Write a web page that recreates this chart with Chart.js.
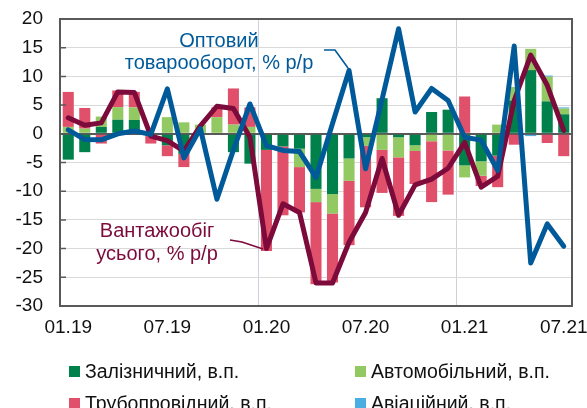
<!DOCTYPE html>
<html><head><meta charset="utf-8">
<script src="https://cdn.jsdelivr.net/npm/chart.js@4/dist/chart.umd.min.js"></script>
<style>
html,body{margin:0;padding:0;background:#fff;}
#wrap{position:relative;width:587px;height:408px;overflow:hidden;font-family:"Liberation Sans",Arial,sans-serif;}
#c{position:absolute;left:0;top:0;}
.lg{position:absolute;display:flex;align-items:center;height:22px;font-size:19.5px;color:#111;white-space:nowrap;}
.lg i{display:inline-block;width:11px;height:11px;margin-right:5px;}
</style></head>
<body><div id="wrap"><canvas id="c" width="587" height="408"></canvas><div id="legend"></div></div>
<script>
const categories = ['01.19','02.19','03.19','04.19','05.19','06.19','07.19','08.19','09.19','10.19','11.19','12.19',
  '01.20','02.20','03.20','04.20','05.20','06.20','07.20','08.20','09.20','10.20','11.20','12.20',
  '01.21','02.21','03.21','04.21','05.21','06.21','07.21'];
const xTickLabels = ['01.19','07.19','01.20','07.20','01.21','07.21'];
const yTicks = {min:-30, max:20, step:5};

const rail     = [-4.5,-3.2,1.2,2.45,2.4,0,-2.0,-3.5,0,0,-3.2,-5.2,-2.8,-2.2,-2.6,-9.6,-10.5,-4.3,-0.6,6.2,-0.6,-2.0,3.8,4.2,-5.5,-4.8,-3.8,5.8,11.1,5.65,3.4];
const auto     = [1.2,0.9,1.8,2.2,2.2,0,2.9,2.0,1.6,2.9,1.6,1.2,0,0,-3.2,-2.3,-3.4,-3.9,-1.5,-2.8,-3.5,-1.0,-1.3,-2.9,-2.1,-2.5,1.6,2.35,3.7,4.3,1.0];
const pipe     = [6.1,3.6,-1.7,2.9,2.7,-1.7,-1.9,-2.3,0,1.7,6.3,3.4,-17.6,-12.0,-7.9,-14.3,-12.0,-11.2,-10.7,-7.5,-10.2,-5.75,-10.6,-7.7,6.5,-1.8,-5.5,-1.9,0,-1.6,-3.9];
const avia     = [0,0,0,0,0,0,0,0,0,0,0,0,0,0,0,0,0,0,0,0,0,0,0,0,0,0,0,0,-0.4,0.2,0.2];
const cargo    = [2.8,1.5,1.9,7.3,7.2,-0.4,-1.2,-3.0,1.4,4.8,4.4,-0.6,-20.0,-12.2,-13.7,-26.0,-26.0,-18.9,-13.7,-4.3,-14.2,-8.9,-7.9,-6.0,-1.5,-9.3,-7.4,5.8,13.7,8.45,0.6];
const wholesale= [0.7,-1.0,-1.05,0,0.5,-0.1,7.85,-4.2,0.9,-11.4,-2.8,5.2,-2.05,-2.9,-3.1,-7.6,1.8,11.05,-6.1,6.0,18.3,3.8,7.9,5.8,-0.6,-1.1,-6.4,15.3,-22.5,-15.7,-19.6];

const seriesNames = ['Залізничний, в.п.','Автомобільний, в.п.','Трубопровідний, в.п.','Авіаційний, в.п.'];
const lineNames = ['Вантажообіг усього, % р/р','Оптовий товарооборот, % р/р'];

const C = {rail:'#00804A', auto:'#93C963', pipe:'#E0506A', avia:'#4AAEE3', cargo:'#7C0A3A', whole:'#005A9A',
  axis:'#595959', grid:'#D9D9D9', vgrid:'#CCD3DB'};
const FONT = "'Liberation Sans', Arial, sans-serif";

const barDs = (label, data, color) => ({type:'bar', label, data, backgroundColor:color, stack:'s', order:2,
  categoryPercentage:1.0, barPercentage:0.67, borderWidth:0});
const lineDs = (label, data, color, order) => ({type:'line', label, data, borderColor:color, borderWidth:5,
  pointRadius:0, tension:0, order, stack:'line'+order, borderJoinStyle:'round', borderCapStyle:'round'});

const annot = {
  id:'annot',
  afterDatasetsDraw(chart){
    const ctx = chart.ctx; ctx.save();
    ctx.font = '20px ' + FONT; ctx.textAlign = 'center'; ctx.textBaseline = 'alphabetic';
    const notes = [
      {lines:['Оптовий','товарооборот, % р/р'], x:219, y:47, dy:21.5, color:C.whole, lead:[[324,50],[335,50],[348,68]]},
      {lines:['Вантажообіг','усього, % р/р'], x:157, y:237, dy:23, color:C.cargo, lead:[[230,240],[242,242],[263,249]]}
    ];
    notes.forEach(n=>{
      ctx.fillStyle = n.color;
      n.lines.forEach((t,i)=>ctx.fillText(t, n.x, n.y + i*n.dy));
      ctx.strokeStyle = n.color; ctx.lineWidth = 1.6; ctx.beginPath();
      n.lead.forEach((p,i)=> i? ctx.lineTo(p[0],p[1]) : ctx.moveTo(p[0],p[1]));
      ctx.stroke();
    });
    ctx.restore();
  }
};
const frame = {
  id:'frame',
  afterDraw(chart){
    const {ctx, chartArea:a, scales} = chart; ctx.save();
    ctx.strokeStyle = C.axis; ctx.lineWidth = 2;
    ctx.strokeRect(a.left, a.top, a.right-a.left, a.bottom-a.top);
    ctx.lineWidth = 1.5; ctx.beginPath();
    scales.y.ticks.forEach(t=>{ const y = scales.y.getPixelForValue(t.value); ctx.moveTo(a.left, y); ctx.lineTo(a.left+6, y); });
    ctx.stroke();
    ctx.restore();
  }
};

const chart = new Chart(document.getElementById('c'), {
  type:'bar',
  data:{
    labels: categories,
    datasets:[
      lineDs(lineNames[1], wholesale, C.whole, 0),
      lineDs(lineNames[0], cargo, C.cargo, 1),
      barDs(seriesNames[0], rail, C.rail),
      barDs(seriesNames[1], auto, C.auto),
      barDs(seriesNames[2], pipe, C.pipe),
      barDs(seriesNames[3], avia, C.avia)
    ]
  },
  options:{
    responsive:false, animation:false, devicePixelRatio:1,
    layout:{padding:{left:0, right:15, top:19, bottom:66}},
    plugins:{legend:{display:false}, tooltip:{enabled:false}},
    scales:{
      x:{stacked:true, offset:true,
        grid:{offset:true, drawTicks:false, lineWidth:1,
          color:(c)=> (c.index===12||c.index===24) ? C.vgrid : 'rgba(0,0,0,0)'},
        border:{display:true, color:C.axis, width:2},
        ticks:{autoSkip:false, maxRotation:0, padding:10, color:'#111', font:{family:FONT, size:19},
          callback:(v,i)=> xTickLabels.includes(categories[i]) ? categories[i] : ''},
        afterFit:(s)=>{ s.height = 36; s.paddingLeft = 0; s.paddingRight = 0; }
      },
      y:{stacked:true, min:yTicks.min, max:yTicks.max,
        ticks:{stepSize:yTicks.step, padding:17, color:'#111', font:{family:FONT, size:19}},
        grid:{drawTicks:false, color:(c)=> c.tick && c.tick.value===0 ? C.axis : C.grid,
          lineWidth:(c)=> c.tick && c.tick.value===0 ? 2 : 1},
        border:{display:true, color:C.axis, width:2},
        afterFit:(s)=>{ s.width = 60; s.paddingTop = 0; s.paddingBottom = 0; }
      }
    }
  },
  plugins:[annot, frame]
});

const lg = document.getElementById('legend');
const slots = [[69,360],[355,360],[69,392],[355,392]];
chart.data.datasets.filter(d=>d.type==='bar').forEach((d,i)=>{
  const el = document.createElement('div'); el.className='lg';
  el.style.left = slots[i][0]+'px'; el.style.top = slots[i][1]+'px';
  el.innerHTML = '<i style="background:'+d.backgroundColor+'"></i><span></span>';
  el.querySelector('span').textContent = d.label;
  lg.appendChild(el);
});
</script></body></html>
